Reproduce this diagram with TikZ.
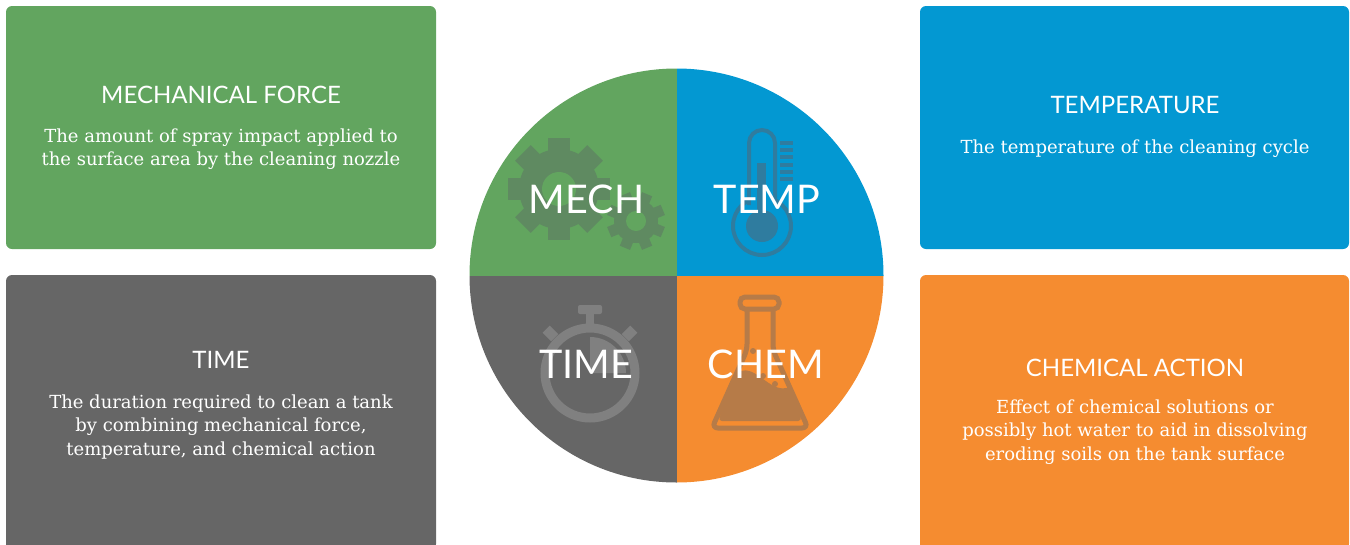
\documentclass[tikz,border=0pt]{standalone}
\usepackage{fontspec}
\setmainfont{DejaVu Serif}
\newfontfamily\latofont{Lato}
\definecolor{mgreen}{HTML}{62A55F}
\definecolor{mblue}{HTML}{0398D2}
\definecolor{mgray}{HTML}{666666}
\definecolor{morange}{HTML}{F58C30}
\definecolor{geargreen}{HTML}{5F8A61}
\definecolor{thermoblue}{HTML}{2F7C9F}
\definecolor{watchgray}{HTML}{808080}
\definecolor{flaskbrown}{HTML}{B67B48}
\tikzset{
  panel/.style={inner sep=0pt, outer sep=0pt, rounded corners=6pt, minimum width=430pt},
  ptitle/.style={text=white, font=\latofont\fontsize{24}{28}\selectfont, inner sep=0pt},
  pbody/.style={text=white, font=\fontsize{18}{23.5}\selectfont, align=center, inner sep=0pt},
  qlabel/.style={text=white, font=\latofont\fontsize{39.5}{44}\selectfont, inner sep=0pt}
}
\begin{document}
\begin{tikzpicture}[x=1pt,y=-1pt]
\useasboundingbox (0,0) rectangle (1350,544);
% panels
\node[panel, fill=mgreen, minimum height=243pt] (mbox) at (221,127.5) {};
\node[panel, fill=mgray, minimum height=275pt] (tbox) at (221,412.5) {};
\node[panel, fill=mblue, minimum width=429pt, minimum height=243pt] (pbox) at (1134.5,127.5) {};
\node[panel, fill=morange, minimum width=429pt, minimum height=275pt] (cbox) at (1134.5,412.5) {};
% panel texts
\node[ptitle] (mtitle) at (221,95) {MECHANICAL FORCE};
\node[pbody] (mbody) at (221,149) {The amount of spray impact applied to\\the surface area by the cleaning nozzle};
\node[ptitle] (ttitle) at (221,360) {TIME};
\node[pbody] (tbody) at (221,427) {The duration required to clean a tank\\by combining mechanical force,\\temperature, and chemical action};
\node[ptitle] (ptitle) at (1135,105) {TEMPERATURE};
\node[pbody] (pbody) at (1135,149) {The temperature of the cleaning cycle};
\node[ptitle] (ctitle) at (1135,368) {CHEMICAL ACTION};
\node[pbody] (cbody) at (1135,432) {Effect of chemical solutions or\\possibly hot water to aid in dissolving\\eroding soils on the tank surface};
% circle quadrants
\coordinate (cc) at (676.5,275.5);
\begin{scope}
\clip (cc) circle[radius=207];
\fill[mgreen] (460,60) rectangle (676.5,275.5);
\fill[mblue] (676.5,60) rectangle (900,275.5);
\fill[mgray] (460,275.5) rectangle (676.5,490);
\fill[morange] (676.5,275.5) rectangle (900,490);
\end{scope}
% gears
\coordinate (g1) at (559,189);
\coordinate (g2) at (636,221);
\fill[geargreen] (g1) circle[radius=40];
\foreach \a in {0,45,...,315} \draw[geargreen, line width=22pt] (g1) -- ++(\a:51);
\fill[mgreen] (g1) circle[radius=17];
\fill[geargreen] (g2) circle[radius=22];
\foreach \a in {22.5,67.5,...,337.5} \draw[geargreen, line width=11pt] (g2) -- ++(\a:29);
\fill[mgreen] (g2) circle[radius=10];
% thermometer
\coordinate (tb) at (762,226);
\draw[thermoblue, line width=4pt] (tb) circle[radius=29];
\draw[thermoblue, line width=4pt, rounded corners=13pt] (749,205) -- (749,130) -- (775,130) -- (775,205);
\fill[mblue] (751,190) rectangle (773,206);
\fill[thermoblue] (757,163) rectangle (766,220);
\fill[thermoblue] (tb) circle[radius=16];
\foreach \yy in {143,150,157,165,172,179} \fill[thermoblue] (780,\yy-2) rectangle (793,\yy+2);
% stopwatch
\coordinate (sw) at (590,373);
\draw[watchgray, line width=9pt] (sw) circle[radius=45];
\fill[watchgray, rounded corners=2pt] (578,305) rectangle (602,314);
\fill[watchgray] (586,312) rectangle (594,326);
\draw[watchgray, line width=10pt] (sw) ++(225:50) -- ++(225:12);
\draw[watchgray, line width=10pt] (sw) ++(315:50) -- ++(315:12);
\fill[watchgray] (sw) -- (590,337) arc[start angle=-90, end angle=0, radius=36] -- cycle;
% flask
\draw[flaskbrown, line width=5pt, rounded corners=5pt] (740,297) rectangle (779,309);
\draw[flaskbrown, line width=5pt, rounded corners=6pt] (747,309) -- (747,350) -- (712,428) -- (808,428) -- (773,350) -- (773,309);
\fill[flaskbrown, rounded corners=4pt] (737,373) .. controls (755,365) and (770,392) .. (790,387) -- (802,421) -- (718,421) -- cycle;
\fill[flaskbrown] (753,351) circle[radius=3];
\fill[flaskbrown] (763,376) circle[radius=3];
\fill[flaskbrown] (775,384) circle[radius=3];
% quadrant labels
\node[qlabel] (lmech) at (586.5,199) {MECH};
\node[qlabel] (ltemp) at (767,199) {TEMP};
\node[qlabel] (ltime) at (586.5,364) {TIME};
\node[qlabel] (lchem) at (766,364) {CHEM};
\end{tikzpicture}
\end{document}
